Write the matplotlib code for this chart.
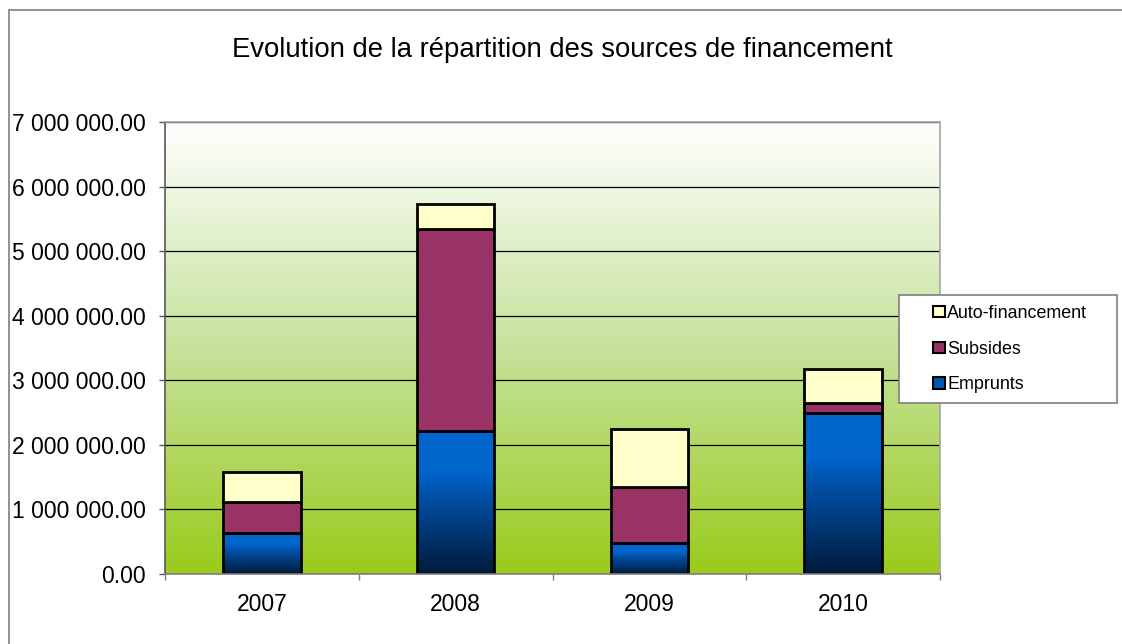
import numpy as np
import matplotlib
matplotlib.use("Agg")
import matplotlib.pyplot as plt
from matplotlib.colors import LinearSegmentedColormap
from matplotlib.patches import Patch, Rectangle
from matplotlib.legend_handler import HandlerPatch

plt.rcParams['font.family'] = ['Liberation Sans', 'DejaVu Sans']

years = ["2007", "2008", "2009", "2010"]
emprunts = [640000, 2220000, 475000, 2490000]
subsides = [475000, 3120000, 877000, 163000]
auto_fin = [460000, 390000, 888000, 517000]
y_ticks = [0, 1000000, 2000000, 3000000, 4000000, 5000000, 6000000, 7000000]

W, H = 1122, 644
fig = plt.figure(figsize=(W / 100, H / 100), dpi=100)
fig.patch.set_facecolor("white")

# outer frame (cropped on the right and bottom like the original)
fig.patches.append(Rectangle((9 / W, -0.1), 1.2, 1 - 10 / H + 0.1, transform=fig.transFigure,
                             fill=False, edgecolor="#7f7f7f", linewidth=1.2))

ax = fig.add_axes([165 / W, 1 - 574 / H, (940 - 165) / W, (574 - 122) / H])

# plot area background gradient
bg = LinearSegmentedColormap.from_list("bg", ["#9acb1c", "#c6e29b", "#ffffff"])
grad = np.linspace(0, 1, 256).reshape(-1, 1)
ax.imshow(grad, cmap=bg, origin="lower", aspect="auto", extent=[0, 1, 0, 1],
          transform=ax.transAxes, zorder=0)

x = np.arange(len(years))
width = 0.4
blue = LinearSegmentedColormap.from_list("blue", [(0, "#001b3a"), (0.55, "#0050a8"), (0.72, "#0066cc"), (1, "#0066cc")])

b1 = ax.bar(x, emprunts, width, facecolor="none", edgecolor="black", linewidth=2, zorder=3)
for r in b1:
    im = ax.imshow(grad, cmap=blue, origin="lower", aspect="auto",
                   extent=[r.get_x(), r.get_x() + r.get_width(), r.get_y(), r.get_y() + r.get_height()],
                   zorder=2.8)
    im.set_clip_path(r)
bottom2 = np.array(emprunts)
ax.bar(x, subsides, width, bottom=bottom2, color="#993366", edgecolor="black", linewidth=2, zorder=3)
bottom3 = bottom2 + np.array(subsides)
ax.bar(x, auto_fin, width, bottom=bottom3, color="#ffffcc", edgecolor="black", linewidth=2, zorder=3)

ax.set_xlim(-0.5, 3.5)
ax.set_ylim(0, 7000000)
ax.set_yticks(y_ticks)
ax.set_yticklabels([f"{v:,.2f}".replace(",", " ") for v in y_ticks])
ax.set_xticks(x)
ax.set_xticklabels(years)
ax.set_xticks(np.arange(-0.5, 4, 1), minor=True)
ax.tick_params(axis="x", which="major", length=0, pad=14, labelsize=16.5)
ax.tick_params(axis="x", which="minor", length=4.5, width=1, color="#7f7f7f", direction="out")
ax.tick_params(axis="y", length=4, width=1, color="#595959", pad=10, labelsize=16.5)

ax.set_axisbelow(True)
ax.yaxis.grid(True, color="black", linewidth=0.9)
ax.spines["top"].set_color("#a6a6a6")
ax.spines["right"].set_color("#a6a6a6")
ax.spines["left"].set_color("#595959")
ax.spines["bottom"].set_color("#7f7f7f")
for s in ax.spines.values():
    s.set_linewidth(1.2)
    s.set_zorder(4)

fig.text(562 / W, 1 - 50 / H, "Evolution de la répartition des sources de financement",
         ha="center", va="center", fontsize=19.8)


def square(legend, orig_handle, xdescent, ydescent, width, height, fontsize):
    s = height
    return Rectangle((width - s - xdescent, -ydescent), s, s)


handles = [Patch(facecolor="#ffffcc", edgecolor="black", linewidth=1.5),
           Patch(facecolor="#993366", edgecolor="black", linewidth=1.5),
           Patch(facecolor="#0058b0", edgecolor="black", linewidth=1.5)]
labels = ["Auto-financement", "Subsides", "Emprunts"]
leg = fig.legend(handles, labels, loc="upper left",
                 bbox_to_anchor=(899 / W, 1 - 402 / H, 218 / W, 107 / H),
                 mode="expand", borderaxespad=0, fontsize=12.9,
                 handlelength=2.0, handleheight=0.62, handletextpad=0.15,
                 labelspacing=1.05, borderpad=0.55, fancybox=False,
                 edgecolor="#7f7f7f", framealpha=1,
                 handler_map={Patch: HandlerPatch(patch_func=square)})
leg.get_frame().set_linewidth(1.2)

fig.savefig("out.png", dpi=100)
